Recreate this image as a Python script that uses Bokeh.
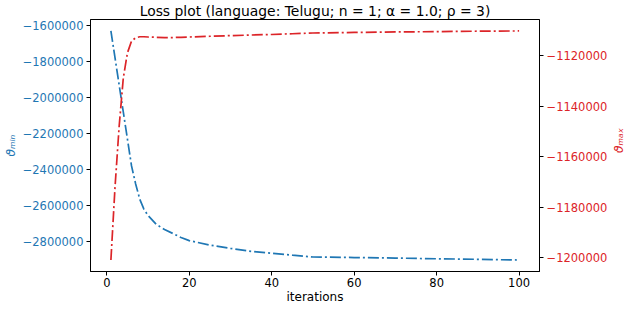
from bokeh.plotting import figure
from bokeh.models import Range1d, LinearAxis, FixedTicker, CustomJSTickFormatter, Label
from bokeh.embed import file_html
from bokeh.resources import INLINE

iterations = [1, 2, 3, 4, 5, 6, 7, 8, 9, 10, 12, 14, 16, 18, 20, 25, 30, 35, 40, 45, 50, 60, 70, 80, 90, 100]
theta_min = [-1630000, -1780000, -1930000, -2080000, -2230000, -2380000, -2480000, -2565000,
             -2620000, -2655000, -2705000, -2733000, -2755000, -2778000, -2795000, -2820000,
             -2838000, -2855000, -2865000, -2876000, -2886000, -2889000, -2892000, -2896000,
             -2899000, -2903000]
theta_max = [-1200900, -1172000, -1148000, -1129000, -1119000, -1114300, -1113000, -1112600,
             -1112600, -1112700, -1112800, -1112900, -1112900, -1112800, -1112700, -1112400,
             -1112150, -1111900, -1111700, -1111400, -1111100, -1110900, -1110700, -1110560,
             -1110400, -1110300]

x_ticks = [0, 20, 40, 60, 80, 100]
min_ticks = [-1600000, -1800000, -2000000, -2200000, -2400000, -2600000, -2800000]
max_ticks = [-1120000, -1140000, -1160000, -1180000, -1200000]

title_text = "Loss plot (language: Telugu; n = 1; \u03b1 = 1.0; \u03c1 = 3)"
x_label = "iterations"
min_label = "\u03d1\u2098\u1d62\u2099"
max_label = "\u03d1\u2098\u2090\u2093"

BLUE = "#1f77b4"
RED = "#dc2428"
FONT = "DejaVu Sans"
TICK_FS = "11.5px"


def padded(v, f=0.05):
    lo, hi = min(v), max(v)
    d = (hi - lo) * f
    return lo - d, hi + d


p = figure(width=624, height=306, output_backend="svg", toolbar_location=None,
           x_range=Range1d(*padded(iterations)), y_range=Range1d(*padded(theta_min)),
           min_border_left=2, min_border_right=2, min_border_top=10, min_border_bottom=2)
p.extra_y_ranges = {"max": Range1d(*padded(theta_max))}
p.grid.visible = False
p.outline_line_color = "black"
p.outline_line_width = 1
p.background_fill_color = "white"
p.border_fill_color = "white"

p.title.text = title_text
p.title.align = "center"
p.title.text_font = FONT
p.title.text_font_size = "13.9px"
p.title.text_font_style = "normal"
p.title.text_color = "black"
p.title.standoff = 1

MINUS_JS = "return String(tick).replace('-', '\\u2212');"

def style_axis(ax, color, ticks, label):
    ax.ticker = FixedTicker(ticks=ticks)
    if label is not None:
        ax.axis_label = label
    ax.axis_label_text_font = FONT
    ax.axis_label_text_font_style = "italic"
    ax.axis_label_text_font_size = "12px"
    ax.axis_label_text_color = color
    ax.axis_label_standoff = 2
    ax.major_label_text_font = FONT
    ax.major_label_text_font_size = TICK_FS
    ax.major_label_text_color = color
    ax.axis_line_color = "black"
    ax.major_tick_line_color = "black"
    ax.major_tick_out = 4
    ax.major_tick_in = 0
    ax.minor_tick_line_color = None
    ax.major_label_standoff = 3

xa = p.xaxis[0]
style_axis(xa, "black", x_ticks, x_label)
xa.axis_label_text_font_style = "normal"
xa.axis_label_standoff = 0
xa.major_label_standoff = 2
ya = p.yaxis[0]
style_axis(ya, BLUE, min_ticks, min_label)
ya.formatter = CustomJSTickFormatter(code=MINUS_JS)

ra = LinearAxis(y_range_name="max")
style_axis(ra, RED, max_ticks, None)
ra.formatter = CustomJSTickFormatter(code=MINUS_JS)
p.add_layout(ra, "right")

# right-hand label reading bottom-to-top, as in the reference
rlab = Label(x=8, y=131, x_units="screen", y_units="screen", text=max_label,
             angle=90, angle_units="deg", text_font=FONT, text_font_size="12px",
             text_font_style="italic", text_color=RED,
             text_align="center", text_baseline="middle")
p.add_layout(rlab, "right")

p.line(iterations, theta_min, line_color=BLUE, line_width=1.7, line_dash="11 3 2 3")
p.line(iterations, theta_max, line_color=RED, line_width=1.7, line_dash="11 3 2 3",
       y_range_name="max")

open("out.html", "w").write(file_html(p, INLINE))
